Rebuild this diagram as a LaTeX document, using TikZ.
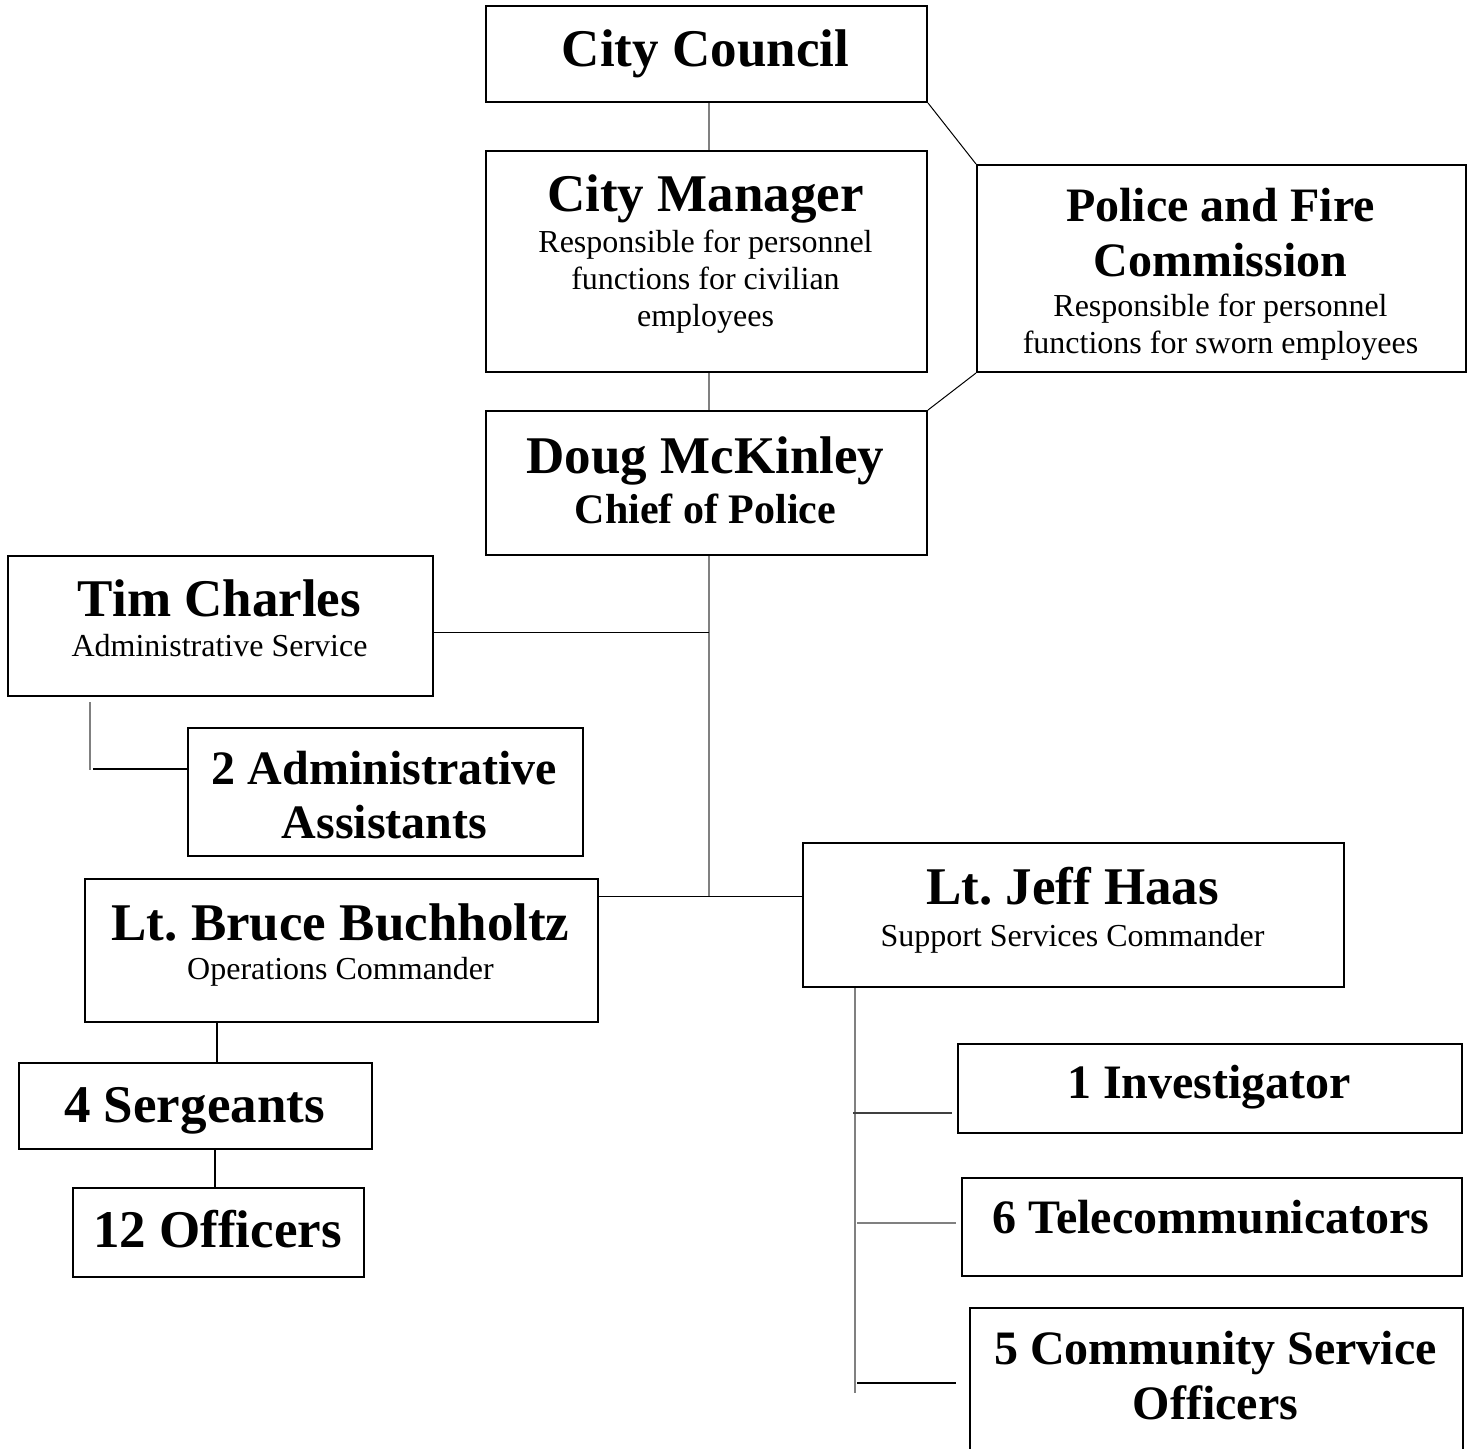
\documentclass[tikz,border=0pt]{standalone}
\usepackage{fontspec}
\setmainfont{Liberation Serif}
\frenchspacing
\begin{document}
\begin{tikzpicture}[x=1pt,y=-1pt,
  box/.style={draw=black, line width=2pt, inner sep=0pt, anchor=north west},
  ttl/.style={font=\bfseries\fontsize{53}{60}\selectfont, anchor=base, inner sep=0pt},
  ttm/.style={font=\bfseries\fontsize{48}{54}\selectfont, anchor=base, inner sep=0pt},
  tts/.style={font=\bfseries\fontsize{42}{48}\selectfont, anchor=base, inner sep=0pt},
  sub/.style={font=\fontsize{32}{37}\selectfont, anchor=base, inner sep=0pt},
  gline/.style={draw=black!50, line width=1.8pt},
  bline/.style={draw=black, line width=1pt},
  bkline/.style={draw=black, line width=1.8pt}]
\useasboundingbox (0,0) rectangle (1471,1448);
\fill[white] (0,0) rectangle (1471,1448);

% boxes
\node[box, minimum width=441, minimum height=96] (cc) at (485,5) {};
\node[box, minimum width=441, minimum height=221] (cm) at (485,150) {};
\node[box, minimum width=489, minimum height=207] (pfc) at (976,164) {};
\node[box, minimum width=441, minimum height=144] (doug) at (485,410) {};
\node[box, minimum width=425, minimum height=140] (tim) at (7,555) {};
\node[box, minimum width=395, minimum height=128] (adm) at (187,727) {};
\node[box, minimum width=513, minimum height=143] (bruce) at (84,878) {};
\node[box, minimum width=353, minimum height=86] (serg) at (18,1062) {};
\node[box, minimum width=291, minimum height=89] (off) at (72,1187) {};
\node[box, minimum width=541, minimum height=144] (jeff) at (802,842) {};
\node[box, minimum width=504, minimum height=89] (inv) at (957,1043) {};
\node[box, minimum width=500, minimum height=98] (tel) at (961,1177) {};
\node[box, minimum width=493, minimum height=145] (cso) at (969,1307) {};

% texts
\node[ttl] (cct) at (705.5,66) {City Council};
\node[ttl] (cmt) at (705.5,211) {City Manager};
\node[sub] (cms1) at (705.5,252) {Responsible for personnel};
\node[sub] (cms2) at (705.5,289) {functions for civilian};
\node[sub] (cms3) at (705.5,326) {employees};
\node[ttm] (pft1) at (1220.5,221) {Police and Fire};
\node[ttm] (pft2) at (1220.5,276) {Commission};
\node[sub] (pfs1) at (1220.5,316) {Responsible for personnel};
\node[sub] (pfs2) at (1220.5,353) {functions for sworn employees};
\node[ttl] (dgt) at (705.5,473) {Doug McKinley};
\node[tts] (dgs) at (705.5,523) {Chief of Police};
\node[ttl] (tmt) at (219.5,616) {Tim Charles};
\node[sub] (tms) at (219.5,656) {Administrative Service};
\node[ttm] (adt1) at (384.5,784) {2 Administrative};
\node[ttm] (adt2) at (384.5,838) {Assistants};
\node[ttl] (brt) at (340.5,940) {Lt. Bruce Buchholtz};
\node[sub] (brs) at (340.5,979) {Operations Commander};
\node[ttl] (sgt) at (194.5,1122) {4 Sergeants};
\node[ttl] (oft) at (217.5,1247) {12 Officers};
\node[ttl] (jft) at (1072.5,904) {Lt. Jeff Haas};
\node[sub] (jfs) at (1072.5,946) {Support Services Commander};
\node[ttm] (ivt) at (1209,1098) {1 Investigator};
\node[ttm] (tlt) at (1211,1233) {6 Telecommunicators};
\node[ttm] (cst1) at (1215.5,1364) {5 Community Service};
\node[ttm] (cst2) at (1215.5,1419) {Officers};

% helper coordinates
\coordinate (spine) at (709,0);
\coordinate (tj) at (709,632);
\coordinate (bj) at (709,896);
\coordinate (ta) at (90,702);
\coordinate (tb) at (90,770);
\coordinate (tc) at (93,769);
\coordinate (bs) at (217,0);
\coordinate (so) at (215,0);
\coordinate (js) at (855,0);
\coordinate (je) at (855,1393);
\coordinate (b1) at (853,1113);
\coordinate (b2) at (857,1223);
\coordinate (b3) at (857,1383);

% connectors
\draw[gline] (cc.south -| spine) -- (cm.north -| spine);
\draw[gline] (cm.south -| spine) -- (doug.north -| spine);
\draw[bline] (cc.south east) -- (pfc.north west);
\draw[bline] (pfc.south west) -- (doug.north east);
\draw[gline] (doug.south -| spine) -- (bj);
\draw[bline] (tim.east |- tj) -- (tj);
\draw[bline] (bruce.east |- bj) -- (jeff.west |- bj);
\draw[gline] (ta) -- (tb);
\draw[bkline] (tc) -- (adm.west |- tc);
\draw[bkline] (bruce.south -| bs) -- (serg.north -| bs);
\draw[bkline] (serg.south -| so) -- (off.north -| so);
\draw[gline] (jeff.south -| js) -- (je);
\draw[draw=black!75, line width=1.4pt] (b1) -- ([xshift=-5pt]inv.west |- b1);
\draw[gline] (b2) -- ([xshift=-5pt]tel.west |- b2);
\draw[bline, line width=1.4pt] (b3) -- ([xshift=-13pt]cso.west |- b3);
\end{tikzpicture}
\end{document}
